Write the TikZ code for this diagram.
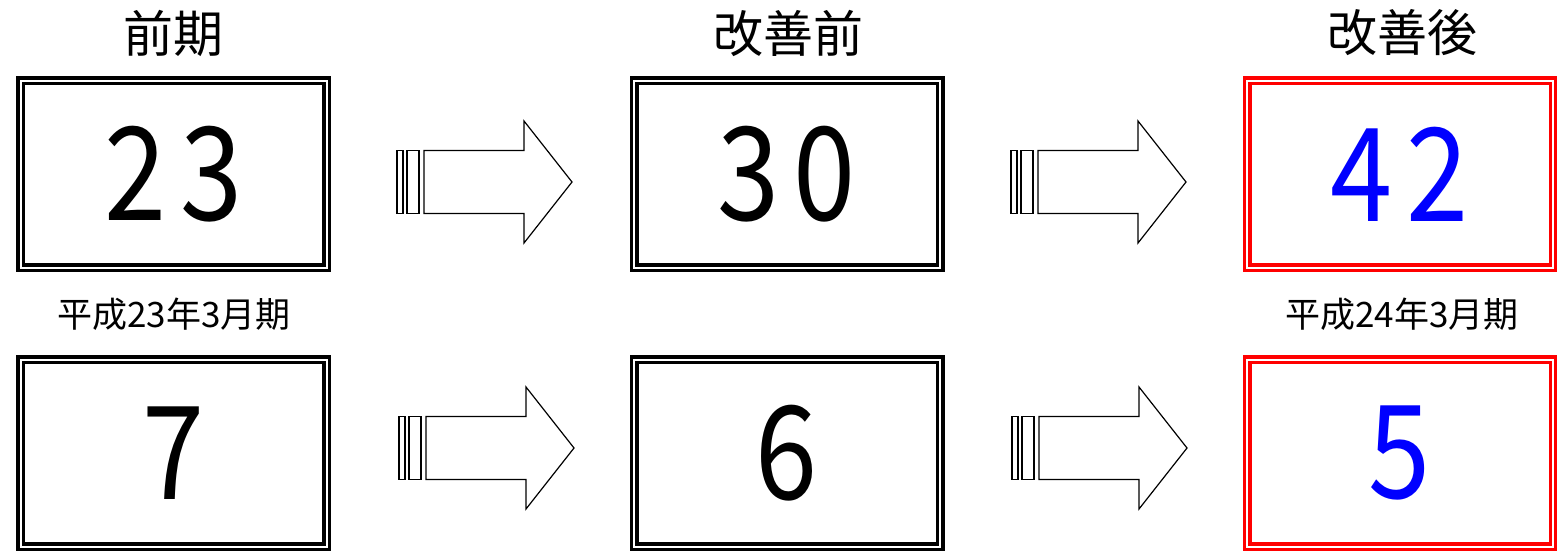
\documentclass[tikz,border=0pt]{standalone}
\usepackage{fontspec}
\setmainfont{Noto Sans CJK JP}
\newfontfamily\jp{Noto Sans CJK JP}
\newfontfamily\jpnum{Noto Sans CJK JP}[FakeStretch=0.86]
\newcommand\gapk{\kern14pt}
\tikzset{
  valbox/.style={rectangle, draw=black, double=white, line width=3.5pt, double distance=2pt,
    minimum width=306pt, minimum height=187pt, inner sep=0pt,
    font=\jpnum\fontsize{130}{130}\selectfont, text=black},
  redbox/.style={valbox, draw=red, text=blue},
  titletxt/.style={font=\jp\fontsize{50}{50}\selectfont, inner sep=0pt},
  subtxt/.style={font=\jp\fontsize{35}{35}\selectfont, inner sep=0pt},
  arrowline/.style={draw=black, line width=1.2pt, fill=white, line join=miter},
  blockarrow/.pic={
    \draw[arrowline] (0,-31.5) rectangle (6,31.5);
    \draw[arrowline] (10,-31.5) rectangle (22,31.5);
    \draw[arrowline] (27,-31.5) -- (127,-31.5) -- (127,-61) -- (175,0) -- (127,61) -- (127,31.5) -- (27,31.5) -- cycle;
  }
}
\begin{document}
\begin{tikzpicture}[x=1pt,y=-1pt]
\useasboundingbox (0,0) rectangle (1557,552);
% titles
\node[titletxt] (t1) at (173,33) {前期};
\node[titletxt] (t2) at (788,33) {改善前};
\node[titletxt] (t3) at (1402,33) {改善後};
% top row
\node[valbox] (a1) at (173.5,174) {2\gapk 3};
\node[valbox] (a2) at (787,174) {3\gapk 0};
\node[redbox] (a3) at (1400,174) {4\gapk 2};
% subtitles
\node[subtxt] (s1) at (174,314) {平成23年3月期};
\node[subtxt] (s3) at (1402,314) {平成24年3月期};
% bottom row
\node[valbox] (b1) at (173.5,453) {7};
\node[valbox] (b2) at (787,453) {6};
\node[redbox] (b3) at (1400,453) {5};
% arrows
\pic at (397,182) {blockarrow};
\pic at (1011,182) {blockarrow};
\pic at (399,448) {blockarrow};
\pic at (1012,448) {blockarrow};
\end{tikzpicture}
\end{document}
